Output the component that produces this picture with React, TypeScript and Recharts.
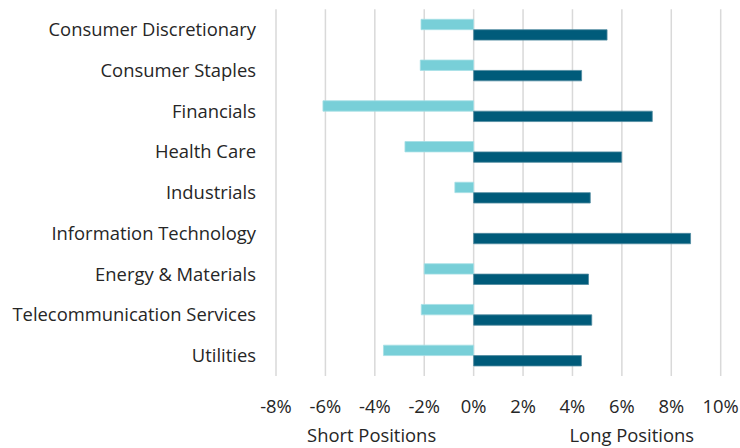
import React from "react";
import { BarChart, Bar, XAxis, YAxis, CartesianGrid } from "recharts";

const categories = [
  "Consumer Discretionary",
  "Consumer Staples",
  "Financials",
  "Health Care",
  "Industrials",
  "Information Technology",
  "Energy & Materials",
  "Telecommunication Services",
  "Utilities",
];
const shortPositions = [-2.13, -2.16, -6.1, -2.78, -0.76, 0, -2.0, -2.12, -3.65];
const longPositions = [5.4, 4.37, 7.23, 5.99, 4.72, 8.78, 4.65, 4.78, 4.36];
const xTicks = [-8, -6, -4, -2, 0, 2, 4, 6, 8, 10];
const axisTitles = ["Short Positions", "Long Positions"];

const data = categories.map((c, i) => ({
  name: c,
  short: shortPositions[i],
  long: longPositions[i],
}));

const FONT = "'Open Sans', sans-serif";
const TEXT = "#262626";
const FS = 18.4;

const XTick = (props: any) => {
  const { x, y, payload } = props;
  return (
    <text x={x} y={y + 29} textAnchor="middle" fontFamily={FONT} fontSize={FS} fill={TEXT}>
      {payload.value + "%"}
    </text>
  );
};

const YTick = (props: any) => {
  const { y, payload } = props;
  return (
    <text x={256} y={y} dy="0.36em" textAnchor="end" fontFamily={FONT} fontSize={FS} fill={TEXT}>
      {payload.value}
    </text>
  );
};

const AxisTitles = (props: any) => {
  const vb = props.viewBox || {};
  const x0 = vb.x ?? 276;
  const w = vb.width ?? 444;
  const y0 = vb.y ?? 376;
  return (
    <g>
      <text x={x0 + w * 0.215} y={y0 + 66} textAnchor="middle" fontFamily={FONT} fontSize={FS} fill={TEXT}>
        {axisTitles[0]}
      </text>
      <text x={x0 + w * 0.8} y={y0 + 66} textAnchor="middle" fontFamily={FONT} fontSize={FS} fill={TEXT}>
        {axisTitles[1]}
      </text>
    </g>
  );
};

export default function App() {
  return (
    <div style={{ position: "absolute", left: 0, top: 0, width: 740, height: 448, background: "#fff" }}>
      <BarChart
        width={740}
        height={448}
        data={data}
        layout="vertical"
        margin={{ top: 9.3, right: 19.3, bottom: 0, left: 0 }}
        barSize={10.4}
        barGap={0}
      >
        <CartesianGrid horizontal={false} vertical={true} stroke="#D9D9D9" strokeWidth={1.5} />
        <XAxis
          type="number"
          domain={[-8, 10]}
          ticks={xTicks}
          axisLine={false}
          tickLine={false}
          tick={<XTick />}
          height={72.1}
          label={<AxisTitles />}
        />
        <YAxis
          type="category"
          dataKey="name"
          width={276}
          axisLine={false}
          tickLine={false}
          tick={<YTick />}
          interval={0}
        />
        <Bar dataKey="short" fill="#78CFD8" stroke="#A6E0E6" strokeWidth={0.8} isAnimationActive={false} />
        <Bar dataKey="long" fill="#005B7A" stroke="#4F8AA0" strokeWidth={0.8} isAnimationActive={false} />
      </BarChart>
    </div>
  );
}
